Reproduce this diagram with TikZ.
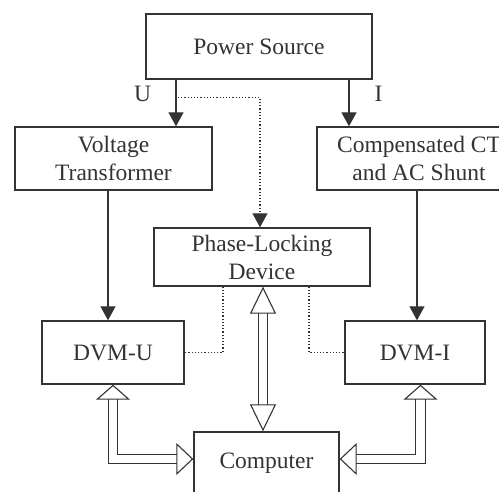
\documentclass[tikz,border=0pt]{standalone}
\usepackage{fontspec}
\setmainfont{Liberation Serif}
\definecolor{ink}{rgb}{0.2, 0.2, 0.2}
\usetikzlibrary{
    arrows.meta,
    positioning,
    calc
}
\tikzstyle{block} = [
    rectangle,
    draw=ink,
    line width=1.4pt,
    text=ink,
    align=center,
    inner sep=0pt,
    font=\fontsize{23.5}{28}\selectfont
]
\tikzstyle{signal} = [
    text=ink,
    inner sep=0pt,
    font=\fontsize{23.5}{28}\selectfont
]
\tikzstyle{arrow} = [
    -{Triangle[length=14pt,width=15pt]},
    line width=1.4pt,
    draw=ink
]
\tikzstyle{sync} = [
    dotted,
    line width=1.2pt,
    draw=ink
]
\tikzstyle{bus} = [
    draw=ink,
    line width=1.1pt,
    double=white,
    double distance=8.5pt
]

\begin{document}
\begin{tikzpicture}[x=1pt, y=-1pt]
        \clip (0,0) rectangle (499,492);

        % Source
        \node[block, minimum width=226pt, minimum height=65pt] (power) at (259,46.5) {Power Source};

        % Transducers
        \node[block, minimum width=197pt, minimum height=63pt] (vt) at (113.5,158.5) {Voltage\\Transformer};
        \node[block, minimum width=204pt, minimum height=63pt] (ct) at (419,158.5) {Compensated CT\\and AC Shunt};

        % Synchronisation
        \node[block, minimum width=216pt, minimum height=58pt] (pld) at (262,257) {Phase-Locking\\Device};

        % Voltmeters
        \node[block, minimum width=142pt, minimum height=63pt] (dvmu) at (113,352.5) {DVM-U};
        \node[block, minimum width=140pt, minimum height=63pt] (dvmi) at (415,352.5) {DVM-I};

        % Computer
        \node[block, minimum width=145pt, minimum height=62pt] (comp) at (266.5,463) {Computer};

        % Signal arrows
        \draw[arrow] ([xshift=-83pt]power.south) -- ([xshift=-83pt]power.south |- vt.north);
        \draw[arrow] ([xshift=90pt]power.south) -- ([xshift=90pt]power.south |- ct.north);
        \draw[arrow] ([xshift=-5.5pt]vt.south) -- ([xshift=-5.5pt]vt.south |- dvmu.north);
        \draw[arrow] ([xshift=2pt]dvmi.north |- ct.south) -- ([xshift=2pt]dvmi.north);

        % Labels
        \node[signal] (ulabel) at (142.5,93.5) {U};
        \node[signal] (ilabel) at (378.5,93.5) {I};

        % Phase locking
        \coordinate (utap) at ([xshift=-81pt, yshift=-18pt]power.south);
        \draw[sync, -{Triangle[length=14pt,width=15pt]}] (utap) -| ([xshift=-2pt]pld.north);
        \draw[sync] ([xshift=-39pt]pld.south) |- (dvmu.east);
        \draw[sync] ([xshift=47pt]pld.south) |- (dvmi.west);

        % Data buses
        \draw[bus, {Triangle[open,length=27pt,width=26pt]}-{Triangle[open,length=27pt,width=26pt]}] ([xshift=1pt]pld.south) -- ([xshift=1pt]pld.south |- comp.north);
        \draw[bus, {Triangle[open,length=15pt,width=34pt]}-{Triangle[open,length=17pt,width=32pt]}] (dvmu.south) |- ([yshift=4pt]comp.west);
        \draw[bus, {Triangle[open,length=15pt,width=34pt]}-{Triangle[open,length=17pt,width=32pt]}] ([xshift=5.5pt]dvmi.south) |- ([yshift=4pt]comp.east);
    \end{tikzpicture}
\end{document}
